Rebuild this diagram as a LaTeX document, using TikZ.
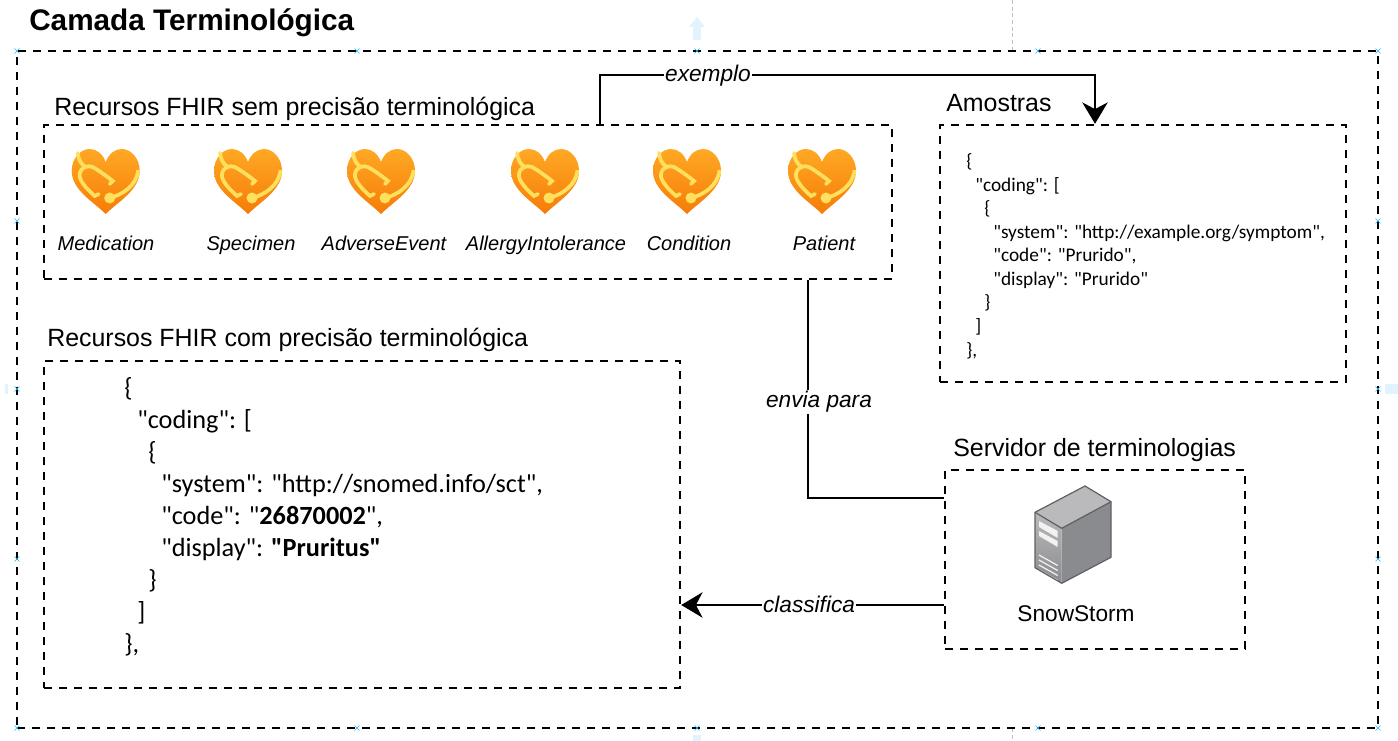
\documentclass[tikz,border=0pt]{standalone}
\usepackage{fontspec}
\setmainfont{Liberation Sans}
\newfontfamily\codefont{Carlito}
\usetikzlibrary{arrows.meta}

\begin{document}
\begin{tikzpicture}[x=0.75pt,y=-0.75pt,
    dashbox/.style={draw=black,line width=1.8pt,dash pattern=on 6pt off 5.25pt,inner sep=0pt},
    titulo/.style={anchor=base west,inner sep=0pt,font=\fontsize{18.7}{20}\selectfont},
    rotulo/.style={anchor=base,inner sep=0pt,font=\fontsize{15}{18}\selectfont\itshape},
    ligacao/.style={line width=1.8pt},
    seta/.style={-{Stealth[length=16pt,width=19pt,inset=5pt]}},
    etiqueta/.style={fill=white,inner sep=1pt,font=\fontsize{17}{20}\selectfont\itshape},
    codigoa/.style={anchor=base west,inner sep=0pt,font=\codefont\fontsize{14.5}{16}\selectfont},
    codigob/.style={anchor=base west,inner sep=0pt,font=\codefont\fontsize{19.7}{20}\selectfont},
    coracao/.pic={
      \shade[top color=heartTop,bottom color=heartBot] (0,32) .. controls (-12,20) and (-34,8) .. (-34,-11)
        .. controls (-34,-24) and (-25,-33) .. (-16,-33) .. controls (-9,-33) and (-3,-28) .. (0,-20)
        .. controls (3,-28) and (9,-33) .. (16,-33) .. controls (25,-33) and (34,-24) .. (34,-11)
        .. controls (34,8) and (12,20) .. (0,32) -- cycle;
      \draw[heartLine,line width=2.8pt,line cap=round] (-28,-29) .. controls (-27,-22) and (-25,-18) .. (-20,-15);
      \draw[heartLine,line width=2.8pt,line cap=round] (-7,12) -- (-11,14) .. controls (-20,6) and (-27,-2) .. (-26,-8)
        .. controls (-25,-15) and (-18,-17) .. (-13,-15) .. controls (-6,-11) and (2,-5) .. (7,-1) -- (4,2);
      \draw[heartLine,line width=2.8pt] (4,16) .. controls (16,13) and (31,4) .. (32.5,-12);
      \fill[heartLine] (4,16) circle (5.5);
    }]
  \definecolor{heartTop}{RGB}{255,168,36}
  \definecolor{heartBot}{RGB}{245,124,8}
  \definecolor{heartLine}{RGB}{255,224,92}
  \definecolor{guia}{RGB}{225,243,253}
  \definecolor{marca}{RGB}{41,182,242}
  \definecolor{srvLado}{RGB}{138,139,142}
  \definecolor{srvTopo}{RGB}{186,186,188}
  \definecolor{srvLinha}{RGB}{95,96,98}
  \useasboundingbox (0,0) rectangle (1398,741);

  % marcas de selecao
  \fill[guia] (697,17) -- (705,27) -- (701,27) -- (701,40) -- (693,40) -- (693,27) -- (689,27) -- cycle;
  \fill[guia] (1385,384) rectangle (1398,394);
  \fill[guia] (5,384) rectangle (8,394);
  \fill[guia] (693,735) rectangle (701,741);
  \draw[gray!50,densely dashed,thin] (1012,0) -- (1012,51);
  \draw[gray!50,densely dashed,thin] (1012,728) -- (1012,741);

  \node[dashbox,minimum width=1361*0.75pt,minimum height=677*0.75pt] (camada) at (697.5,389.5) {};
  \node[dashbox,minimum width=848*0.75pt,minimum height=154*0.75pt] (semprec) at (468,202) {};
  \node[dashbox,minimum width=406*0.75pt,minimum height=257*0.75pt] (amostras) at (1143,253.5) {};
  \node[dashbox,minimum width=636*0.75pt,minimum height=327*0.75pt] (comprec) at (362,524.5) {};
  \node[dashbox,minimum width=300*0.75pt,minimum height=179*0.75pt] (servidor) at (1095,559.5) {};

  \foreach \x/\y in {17/51,357/51,697/51,1038/51,1378/51,17/221,17/389,17/559,1378/221,1378/389,1378/559,17/728,357/728,697/728,1038/728,1378/728}{%
    \draw[marca,thin] (\x-2.5,\y-2.5) -- (\x+2.5,\y+2.5) (\x-2.5,\y+2.5) -- (\x+2.5,\y-2.5);
  }

  \node[anchor=base west,inner sep=0pt,font=\fontsize{22.3}{24}\selectfont\bfseries] (tcamada) at (29,31) {Camada Terminológica};
  \node[titulo] (tsem) at (54,116) {Recursos FHIR sem precisão terminológica};
  \node[titulo] (tamostras) at (946,112) {Amostras};
  \node[titulo] (tcom) at (47,347) {Recursos FHIR com precisão terminológica};
  \node[titulo] (tservidor) at (953,456) {Servidor de terminologias};

  \foreach \x/\lx/\t in {105.7/106/Medication,248/251/Specimen,381/384/AdverseEvent,545/546/AllergyIntolerance,687/689/Condition,822/824/Patient}{%
    \pic at (\x,182) {coracao};
    \node[rotulo] (r\t) at (\lx,251) {\t};
  }

  % amostra
  \foreach \i/\x/\y/\t in {1/966/168/\{,2/975/191.5/{"coding": [},3/984/215/\{,4/993/238.5/{"system": "http://example.org/symptom",},5/993/262/{"code": "Prurido",},6/993/285.5/{"display": "Prurido"},7/984/309/\},8/975/332.5/],9/966/356/{\},}}{%
    \node[codigoa] (a\i) at (\x,\y) {\t};
  }
  % classificado
  \foreach \i/\x/\y/\t in {1/124/396/\{,2/137/428/{"coding": [},3/148/460/\{,4/161/492/{"system": "http://snomed.info/sct",},5/161/524/{"code": "\textbf{26870002}",},6/161/556/{"display": \textbf{"Pruritus"}},7/148/588/\},8/137/620/],9/124/652/{\},}}{%
    \node[codigob] (b\i) at (\x,\y) {\t};
  }

  % servidor
  \fill[srvLado] (1111,501.7) -- (1111,557.3) -- (1061.7,583.3) -- (1061.7,528.3) -- cycle;
  \fill[srvTopo] (1085,486) -- (1111,501.7) -- (1061.7,528.3) -- (1035,512.3) -- cycle;
  \shade[top color=srvTopo,bottom color=srvLado] (1035,512.3) -- (1061.7,528.3) -- (1061.7,583.3) -- (1035,567.7) -- cycle;
  \fill[white!90!gray] (1039,521) -- (1057.7,531) -- (1057.7,538) -- (1039,527) -- cycle;
  \fill[white!90!gray] (1039,531) -- (1057.7,541) -- (1057.7,547) -- (1039,536) -- cycle;
  \foreach \y in {555,560,565,570}{%
    \draw[white!90!gray,line width=0.9pt] (1039,\y) -- (1057.7,\y+10.5);
  }
  \draw[srvLinha,line width=0.9pt,line join=round] (1085,486) -- (1111,501.7) -- (1111,557.3) -- (1061.7,583.3) -- (1035,567.7) -- (1035,512.3) -- cycle;
  \draw[srvLinha,line width=0.9pt,line join=round] (1035,512.3) -- (1061.7,528.3) -- (1111,501.7);
  \node[anchor=base,inner sep=0pt,font=\fontsize{17}{20}\selectfont] (snow) at (1076,621) {SnowStorm};

  % ligacoes
  \draw[ligacao,seta] (600,0 |- semprec.north) -- (600,75) -- (1095,75) -- (1095,0 |- amostras.north);
  \node[etiqueta] (lexemplo) at (708,75.5) {exemplo};
  \draw[ligacao] (808,0 |- semprec.south) |- (servidor.west |- 0,498);
  \node[etiqueta] (lenvia) at (819,402) {envia para};
  \draw[ligacao,seta] (servidor.west |- 0,605) -- (comprec.east |- 0,605);
  \node[etiqueta] (lclass) at (809,604) {classifica};
\end{tikzpicture}
\end{document}
